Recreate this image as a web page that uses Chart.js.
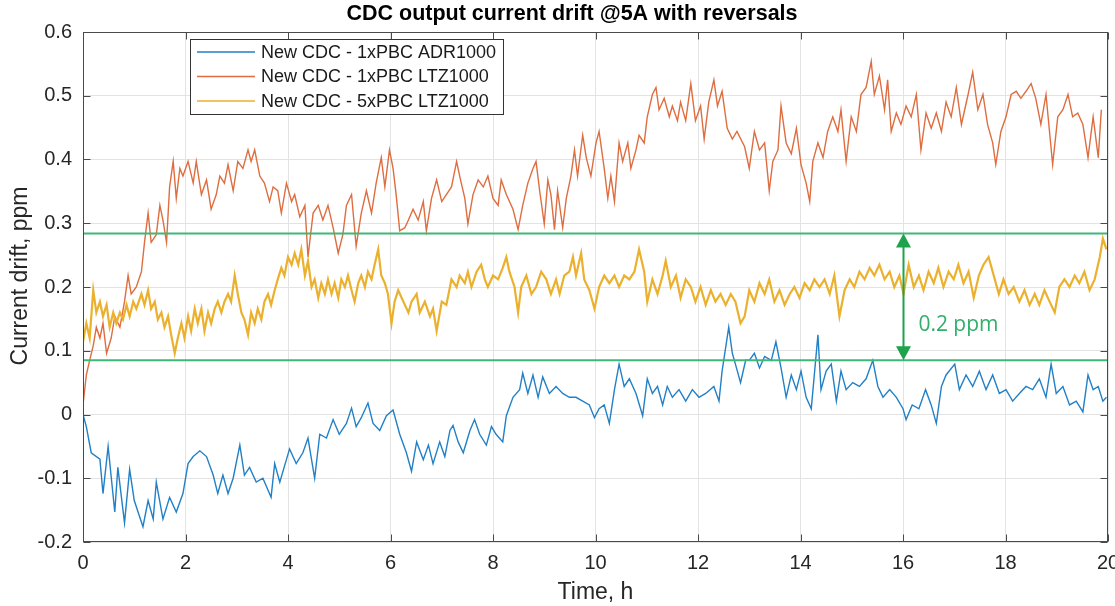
<!DOCTYPE html>
<html>
<head>
<meta charset="utf-8">
<script src="https://cdn.jsdelivr.net/npm/chart.js@4.4.1/dist/chart.umd.min.js"></script>
<style>
  html, body { margin: 0; padding: 0; background: #fff; }
  #wrap { width: 1115px; height: 606px; }
</style>
</head>
<body>
<div id="wrap"><canvas id="c" width="1115" height="606"></canvas></div>
<script>
// ---- Data: [time h, drift ppm] ----
const chartTitle = 'CDC output current drift @5A with reversals';
const xTitle = 'Time, h';
const yTitle = 'Current drift, ppm';
const seriesNames = ['New CDC - 1xPBC ADR1000', 'New CDC - 1xPBC LTZ1000', 'New CDC - 5xPBC LTZ1000'];

const adr1000 = [[0,0.0],[0.065,-0.019],[0.16,-0.06],[0.33,-0.07],[0.39,-0.124],[0.49,-0.05],[0.62,-0.153],[0.68,-0.083],[0.81,-0.17],[0.91,-0.086],[1.0,-0.135],[1.17,-0.176],[1.27,-0.135],[1.37,-0.164],[1.43,-0.106],[1.56,-0.164],[1.69,-0.13],[1.82,-0.153],[1.95,-0.124],[2.05,-0.077],[2.15,-0.066],[2.28,-0.057],[2.41,-0.066],[2.54,-0.095],[2.63,-0.124],[2.73,-0.095],[2.83,-0.124],[2.93,-0.1],[3.06,-0.048],[3.15,-0.095],[3.25,-0.083],[3.38,-0.106],[3.51,-0.1],[3.67,-0.13],[3.74,-0.077],[3.84,-0.106],[4.03,-0.054],[4.16,-0.077],[4.29,-0.06],[4.39,-0.037],[4.52,-0.1],[4.62,-0.031],[4.75,-0.037],[4.88,-0.008],[5.0,-0.031],[5.14,-0.014],[5.24,0.01],[5.33,-0.019],[5.43,-0.005],[5.56,0.018],[5.66,-0.014],[5.79,-0.025],[5.92,-0.002],[6.05,0.007],[6.18,-0.031],[6.31,-0.06],[6.41,-0.089],[6.51,-0.043],[6.64,-0.071],[6.74,-0.048],[6.83,-0.077],[6.96,-0.043],[7.06,-0.066],[7.16,-0.025],[7.22,-0.017],[7.32,-0.043],[7.42,-0.06],[7.55,-0.025],[7.64,-0.008],[7.74,-0.031],[7.87,-0.048],[7.97,-0.019],[8.06,-0.031],[8.19,-0.043],[8.26,-0.002],[8.39,0.027],[8.52,0.039],[8.58,0.065],[8.68,0.033],[8.78,0.062],[8.88,0.027],[8.97,0.059],[9.1,0.033],[9.23,0.044],[9.36,0.033],[9.49,0.027],[9.62,0.027],[9.75,0.021],[9.88,0.015],[9.98,-0.005],[10.07,0.009],[10.17,0.015],[10.27,-0.014],[10.37,0.039],[10.46,0.079],[10.56,0.044],[10.66,0.056],[10.79,0.033],[10.92,-0.002],[11.01,0.056],[11.11,0.033],[11.21,0.044],[11.31,0.015],[11.4,0.044],[11.5,0.027],[11.63,0.039],[11.76,0.021],[11.89,0.039],[12.02,0.027],[12.15,0.033],[12.31,0.044],[12.41,0.021],[12.47,0.068],[12.6,0.137],[12.67,0.096],[12.73,0.079],[12.83,0.05],[12.93,0.085],[13.0,0.085],[13.1,0.096],[13.2,0.073],[13.3,0.091],[13.43,0.085],[13.52,0.114],[13.62,0.073],[13.72,0.027],[13.82,0.062],[13.92,0.039],[14.01,0.068],[14.11,0.027],[14.21,0.009],[14.34,0.125],[14.4,0.039],[14.5,0.068],[14.6,0.079],[14.7,0.021],[14.79,0.068],[14.89,0.039],[15.02,0.05],[15.15,0.044],[15.28,0.056],[15.41,0.085],[15.51,0.044],[15.61,0.027],[15.74,0.039],[15.87,0.027],[16.0,0.009],[16.06,-0.008],[16.18,0.015],[16.31,0.009],[16.44,0.039],[16.55,0.015],[16.65,-0.014],[16.75,0.044],[16.84,0.062],[17.01,0.079],[17.1,0.039],[17.23,0.062],[17.36,0.044],[17.49,0.068],[17.62,0.039],[17.75,0.062],[17.88,0.033],[18.01,0.039],[18.14,0.021],[18.27,0.033],[18.4,0.044],[18.53,0.039],[18.66,0.056],[18.79,0.027],[18.89,0.079],[18.99,0.033],[19.12,0.044],[19.25,0.015],[19.38,0.021],[19.51,0.004],[19.61,0.062],[19.71,0.039],[19.81,0.044],[19.9,0.021],[19.97,0.027]];

const ltz1000x1 = [[0,0.015],[0.065,0.062],[0.13,0.085],[0.2,0.108],[0.26,0.137],[0.33,0.12],[0.39,0.143],[0.46,0.096],[0.55,0.12],[0.62,0.154],[0.72,0.137],[0.81,0.177],[0.88,0.218],[0.94,0.189],[1.04,0.2],[1.14,0.224],[1.2,0.27],[1.27,0.316],[1.33,0.27],[1.43,0.282],[1.5,0.328],[1.56,0.305],[1.63,0.27],[1.69,0.357],[1.76,0.397],[1.82,0.339],[1.89,0.386],[1.95,0.374],[2.05,0.397],[2.15,0.363],[2.21,0.397],[2.31,0.345],[2.41,0.368],[2.5,0.322],[2.6,0.345],[2.67,0.374],[2.76,0.363],[2.83,0.392],[2.93,0.351],[3.02,0.397],[3.12,0.386],[3.22,0.415],[3.28,0.397],[3.35,0.415],[3.45,0.374],[3.54,0.363],[3.64,0.334],[3.71,0.357],[3.8,0.351],[3.87,0.316],[3.97,0.363],[4.07,0.334],[4.13,0.345],[4.23,0.31],[4.33,0.328],[4.39,0.247],[4.49,0.316],[4.59,0.328],[4.68,0.305],[4.78,0.328],[4.88,0.293],[4.98,0.253],[5.07,0.282],[5.14,0.328],[5.24,0.345],[5.33,0.264],[5.43,0.316],[5.53,0.351],[5.63,0.316],[5.72,0.363],[5.82,0.403],[5.89,0.357],[5.98,0.415],[6.05,0.386],[6.11,0.345],[6.18,0.288],[6.28,0.293],[6.35,0.305],[6.44,0.322],[6.54,0.305],[6.64,0.334],[6.7,0.288],[6.8,0.339],[6.9,0.368],[7.0,0.334],[7.09,0.345],[7.19,0.357],[7.29,0.397],[7.35,0.374],[7.45,0.339],[7.51,0.299],[7.61,0.345],[7.71,0.368],[7.81,0.357],[7.9,0.374],[8.0,0.339],[8.1,0.328],[8.16,0.368],[8.26,0.345],[8.39,0.322],[8.49,0.29],[8.58,0.328],[8.68,0.363],[8.78,0.386],[8.84,0.397],[8.91,0.351],[9.0,0.299],[9.07,0.368],[9.13,0.345],[9.2,0.29],[9.26,0.351],[9.36,0.293],[9.43,0.339],[9.52,0.374],[9.59,0.415],[9.65,0.374],[9.75,0.438],[9.82,0.403],[9.91,0.374],[10.01,0.426],[10.07,0.444],[10.17,0.386],[10.24,0.339],[10.3,0.374],[10.37,0.334],[10.46,0.426],[10.53,0.397],[10.63,0.426],[10.69,0.386],[10.79,0.415],[10.85,0.438],[10.95,0.426],[11.01,0.467],[11.11,0.502],[11.18,0.513],[11.24,0.478],[11.34,0.496],[11.44,0.467],[11.5,0.484],[11.6,0.461],[11.66,0.49],[11.76,0.461],[11.86,0.519],[11.95,0.461],[12.05,0.484],[12.12,0.432],[12.21,0.49],[12.31,0.525],[12.38,0.484],[12.47,0.507],[12.57,0.449],[12.67,0.432],[12.76,0.444],[12.91,0.42],[13.0,0.386],[13.1,0.444],[13.2,0.415],[13.3,0.426],[13.39,0.351],[13.46,0.397],[13.56,0.415],[13.62,0.484],[13.72,0.426],[13.82,0.409],[13.92,0.449],[14.01,0.392],[14.11,0.363],[14.18,0.334],[14.24,0.397],[14.34,0.426],[14.44,0.403],[14.53,0.444],[14.63,0.467],[14.73,0.444],[14.79,0.478],[14.89,0.397],[14.99,0.467],[15.09,0.444],[15.18,0.502],[15.28,0.513],[15.38,0.554],[15.44,0.502],[15.54,0.531],[15.64,0.478],[15.7,0.525],[15.77,0.444],[15.87,0.473],[15.96,0.455],[16.06,0.484],[16.16,0.467],[16.26,0.502],[16.35,0.415],[16.45,0.473],[16.55,0.449],[16.65,0.473],[16.75,0.444],[16.84,0.49],[16.94,0.467],[17.04,0.513],[17.14,0.455],[17.27,0.502],[17.36,0.537],[17.46,0.478],[17.56,0.502],[17.65,0.455],[17.75,0.426],[17.81,0.392],[17.91,0.444],[18.01,0.467],[18.11,0.502],[18.21,0.507],[18.3,0.496],[18.4,0.507],[18.5,0.519],[18.59,0.496],[18.69,0.455],[18.79,0.502],[18.92,0.392],[19.02,0.467],[19.12,0.478],[19.22,0.502],[19.31,0.467],[19.41,0.473],[19.51,0.455],[19.61,0.403],[19.71,0.467],[19.81,0.403],[19.87,0.478]];

const ltz1000x5 = [[0,0.114],[0.065,0.143],[0.13,0.12],[0.2,0.195],[0.26,0.16],[0.33,0.177],[0.39,0.154],[0.46,0.172],[0.52,0.137],[0.59,0.16],[0.65,0.143],[0.72,0.16],[0.78,0.149],[0.85,0.172],[0.91,0.154],[0.98,0.177],[1.04,0.166],[1.14,0.189],[1.2,0.172],[1.27,0.195],[1.33,0.166],[1.4,0.177],[1.46,0.149],[1.53,0.16],[1.59,0.137],[1.66,0.154],[1.72,0.125],[1.79,0.096],[1.85,0.12],[1.92,0.143],[1.98,0.12],[2.05,0.154],[2.11,0.131],[2.18,0.166],[2.24,0.143],[2.31,0.166],[2.37,0.131],[2.44,0.16],[2.5,0.143],[2.57,0.166],[2.63,0.177],[2.7,0.16],[2.76,0.177],[2.83,0.189],[2.89,0.177],[2.96,0.218],[3.02,0.189],[3.09,0.16],[3.15,0.149],[3.22,0.125],[3.28,0.16],[3.35,0.143],[3.41,0.166],[3.48,0.149],[3.54,0.177],[3.61,0.189],[3.67,0.172],[3.74,0.195],[3.8,0.212],[3.87,0.23],[3.93,0.218],[4.0,0.247],[4.07,0.235],[4.13,0.253],[4.2,0.235],[4.26,0.259],[4.33,0.218],[4.39,0.241],[4.46,0.2],[4.52,0.212],[4.59,0.183],[4.65,0.206],[4.72,0.189],[4.78,0.212],[4.85,0.189],[4.91,0.206],[4.98,0.183],[5.04,0.212],[5.11,0.2],[5.17,0.218],[5.24,0.195],[5.3,0.177],[5.37,0.206],[5.43,0.218],[5.5,0.2],[5.56,0.224],[5.63,0.212],[5.69,0.235],[5.76,0.259],[5.82,0.218],[5.89,0.206],[5.95,0.189],[6.02,0.143],[6.08,0.177],[6.15,0.195],[6.28,0.172],[6.35,0.16],[6.41,0.177],[6.51,0.189],[6.57,0.16],[6.67,0.177],[6.77,0.154],[6.83,0.166],[6.9,0.131],[7.0,0.177],[7.09,0.172],[7.19,0.212],[7.29,0.2],[7.35,0.218],[7.45,0.206],[7.51,0.224],[7.58,0.2],[7.68,0.224],[7.77,0.235],[7.84,0.212],[7.9,0.2],[8.0,0.218],[8.1,0.212],[8.19,0.23],[8.26,0.247],[8.32,0.224],[8.42,0.2],[8.49,0.16],[8.55,0.2],[8.65,0.218],[8.75,0.189],[8.84,0.2],[8.94,0.224],[9.04,0.212],[9.13,0.189],[9.23,0.212],[9.3,0.189],[9.39,0.218],[9.49,0.224],[9.56,0.247],[9.62,0.218],[9.72,0.253],[9.78,0.212],[9.88,0.195],[9.98,0.166],[10.07,0.2],[10.17,0.218],[10.27,0.206],[10.37,0.218],[10.46,0.2],[10.56,0.218],[10.66,0.212],[10.76,0.224],[10.85,0.259],[10.95,0.224],[11.01,0.177],[11.11,0.212],[11.21,0.189],[11.31,0.218],[11.37,0.241],[11.47,0.2],[11.57,0.218],[11.66,0.183],[11.76,0.212],[11.86,0.2],[11.95,0.177],[12.05,0.2],[12.15,0.172],[12.25,0.195],[12.34,0.177],[12.44,0.189],[12.54,0.172],[12.64,0.189],[12.73,0.177],[12.83,0.143],[12.91,0.154],[13.0,0.195],[13.1,0.177],[13.2,0.206],[13.3,0.189],[13.39,0.212],[13.49,0.177],[13.59,0.195],[13.69,0.172],[13.79,0.189],[13.88,0.2],[13.98,0.183],[14.08,0.206],[14.18,0.195],[14.27,0.212],[14.37,0.2],[14.47,0.212],[14.57,0.189],[14.66,0.218],[14.76,0.154],[14.86,0.195],[14.96,0.212],[15.05,0.2],[15.15,0.224],[15.25,0.212],[15.35,0.23],[15.44,0.218],[15.54,0.235],[15.64,0.212],[15.74,0.224],[15.83,0.2],[15.93,0.218],[16.01,0.189],[16.11,0.235],[16.21,0.2],[16.31,0.218],[16.4,0.195],[16.5,0.224],[16.6,0.206],[16.69,0.23],[16.79,0.2],[16.89,0.224],[16.99,0.212],[17.08,0.235],[17.18,0.206],[17.28,0.224],[17.38,0.183],[17.48,0.218],[17.57,0.235],[17.67,0.247],[17.77,0.218],[17.87,0.189],[17.96,0.212],[18.06,0.189],[18.16,0.2],[18.27,0.177],[18.37,0.195],[18.47,0.172],[18.57,0.189],[18.66,0.172],[18.76,0.195],[18.86,0.177],[18.96,0.16],[19.05,0.2],[19.15,0.212],[19.25,0.2],[19.35,0.218],[19.44,0.206],[19.54,0.224],[19.64,0.195],[19.74,0.212],[19.84,0.247],[19.9,0.276],[19.97,0.259]];

// Annotation band (green lines + arrow)
const bandLevels = [0.284, 0.085];
const bandSpan = [0, 20];
const arrowTime = 16;
const bandLabel = '0.2 ppm';
const bandLabelPos = [16.3, 0.14];

// Axis setup
const xRange = [0, 20];
const xStep = 2;
const yRange = [-0.2, 0.6];
const yStep = 0.1;

const seriesColors = ['#2180c6', '#de6d40', '#ebb12e'];
const bandColor = '#3cb878';
const arrowColor = '#1ea34c';
const FONT = "'Liberation Sans', Arial, Helvetica, sans-serif";

const toPts = arr => arr.map(p => ({x: p[0], y: p[1]}));

const datasets = [
  {label: seriesNames[0], data: toPts(adr1000), borderColor: seriesColors[0], borderWidth: 1.4, order: 3},
  {label: seriesNames[1], data: toPts(ltz1000x1), borderColor: seriesColors[1], borderWidth: 1.4, order: 2},
  {label: seriesNames[2], data: toPts(ltz1000x5), borderColor: seriesColors[2], borderWidth: 2.2, order: 1},
  ...bandLevels.map(v => ({label: '_band', data: bandSpan.map(t => ({x: t, y: v})), borderColor: bandColor, borderWidth: 2, order: 0}))
];
datasets.forEach(d => { d.pointRadius = 0; d.fill = false; d.tension = 0; d.spanGaps = true; });

const framePlugin = {
  id: 'frame',
  afterDatasetsDraw(chart) {
    const {ctx, chartArea: a, scales: {x, y}} = chart;
    ctx.save();
    // arrow
    const ax = Math.round(x.getPixelForValue(arrowTime)) + 0.5;
    const yTop = y.getPixelForValue(Math.max(...bandLevels));
    const yBot = y.getPixelForValue(Math.min(...bandLevels));
    const ah = 14, aw = 7.5;
    ctx.strokeStyle = arrowColor; ctx.fillStyle = arrowColor; ctx.lineWidth = 2;
    ctx.beginPath(); ctx.moveTo(ax, yTop + ah - 1); ctx.lineTo(ax, yBot - ah + 1); ctx.stroke();
    ctx.beginPath(); ctx.moveTo(ax, yTop); ctx.lineTo(ax - aw, yTop + ah); ctx.lineTo(ax + aw, yTop + ah); ctx.closePath(); ctx.fill();
    ctx.beginPath(); ctx.moveTo(ax, yBot); ctx.lineTo(ax - aw, yBot - ah); ctx.lineTo(ax + aw, yBot - ah); ctx.closePath(); ctx.fill();
    ctx.font = "21px 'Open Sans', 'Noto Sans', sans-serif";
    ctx.fillStyle = '#2fb06a'; ctx.textAlign = 'left'; ctx.textBaseline = 'middle';
    ctx.fillText(bandLabel, x.getPixelForValue(bandLabelPos[0]), y.getPixelForValue(bandLabelPos[1]));

    // frame + inward ticks
    ctx.strokeStyle = '#4a4a4a'; ctx.lineWidth = 1;
    const L = Math.round(a.left) + 0.5, R = Math.round(a.right) - 0.5, T = Math.round(a.top) + 0.5, B = Math.round(a.bottom) - 0.5;
    ctx.strokeRect(L, T, R - L, B - T);
    const tl = 7;
    ctx.beginPath();
    for (let v = xRange[0]; v <= xRange[1] + 1e-9; v += xStep) {
      const px = Math.round(x.getPixelForValue(v)) + 0.5;
      ctx.moveTo(px, B); ctx.lineTo(px, B - tl);
      ctx.moveTo(px, T); ctx.lineTo(px, T + tl);
    }
    for (let i = 0; i <= Math.round((yRange[1] - yRange[0]) / yStep); i++) {
      const py = Math.round(y.getPixelForValue(yRange[0] + i * yStep)) + 0.5;
      ctx.moveTo(L, py); ctx.lineTo(L + tl, py);
      ctx.moveTo(R, py); ctx.lineTo(R - tl, py);
    }
    ctx.stroke();

    // legend box
    const bx = 190.5, by = 39.5, bw = 313, bh = 75;
    ctx.fillStyle = '#ffffff'; ctx.fillRect(bx, by, bw, bh);
    ctx.strokeStyle = '#333333'; ctx.strokeRect(bx, by, bw, bh);
    ctx.font = '18px ' + FONT; ctx.textBaseline = 'middle'; ctx.textAlign = 'left';
    seriesNames.forEach((name, i) => {
      const ry = by + 12.5 + i * 24.5;
      ctx.strokeStyle = seriesColors[i]; ctx.lineWidth = 1.3;
      ctx.beginPath(); ctx.moveTo(197, ry); ctx.lineTo(255, ry); ctx.stroke();
      ctx.fillStyle = '#1a1a1a'; ctx.fillText(name, 261, ry + 1);
    });

    // chart title and y-axis title
    ctx.fillStyle = '#000'; ctx.textAlign = 'center'; ctx.textBaseline = 'middle';
    ctx.font = 'bold 21.5px ' + FONT;
    ctx.fillText(chartTitle, 572, 14);
    ctx.save();
    ctx.translate(21, 276);
    ctx.rotate(-Math.PI / 2);
    ctx.fillStyle = '#262626';
    ctx.font = '23px ' + FONT;
    ctx.fillText(yTitle, 0, 0);
    ctx.restore();
    ctx.restore();
  }
};

new Chart(document.getElementById('c'), {
  type: 'line',
  data: {datasets},
  plugins: [framePlugin],
  options: {
    responsive: false,
    animation: false,
    events: [],
    layout: {padding: {left: 0, right: 7, top: 32, bottom: 0}, autoPadding: false},
    plugins: {
      legend: {display: false},
      tooltip: {enabled: false},
      title: {display: false}
    },
    scales: {
      x: {
        type: 'linear', min: xRange[0], max: xRange[1],
        ticks: {stepSize: xStep, color: '#262626', font: {family: FONT, size: 20}, padding: 9, maxRotation: 0, autoSkip: false},
        grid: {color: '#e3e3e3', drawTicks: false},
        border: {display: false},
        title: {display: true, text: xTitle, color: '#262626', font: {family: FONT, size: 23, lineHeight: '26px'}, padding: {top: 0, bottom: 0}},
        afterFit: s => { s.height = 64; s.paddingLeft = 0; s.paddingRight = 0; }
      },
      y: {
        type: 'linear', min: yRange[0], max: yRange[1],
        ticks: {stepSize: yStep, color: '#262626', font: {family: FONT, size: 20}, padding: 11,
          callback: v => Math.abs(v) < 1e-9 ? '0' : (+v).toFixed(1)},
        grid: {color: '#e3e3e3', drawTicks: false},
        border: {display: false},
        title: {display: false},
        afterFit: s => { s.width = 83; s.paddingTop = 0; s.paddingBottom = 0; }
      }
    }
  }
});
</script>
</body>
</html>
